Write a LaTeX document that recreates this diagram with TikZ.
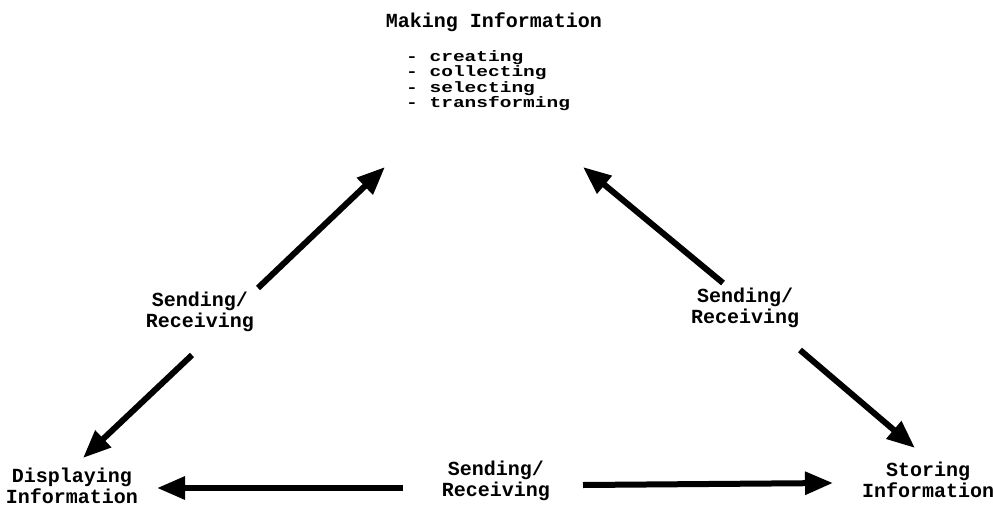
\documentclass[tikz,border=0pt]{standalone}
\usepackage{fontspec}
\setmonofont{Liberation Mono}
\newfontfamily\twlist[FakeStretch=1.3]{Liberation Mono}
\usetikzlibrary{arrows.meta}
\newcommand\mytight{\lineskiplimit=-20pt\relax}
\tikzset{
  lbl/.style={font=\ttfamily\bfseries\fontsize{20}{21}\selectfont\mytight, align=center, inner sep=0pt},
  lst/.style={font=\twlist\bfseries\fontsize{15}{15.5}\selectfont\mytight, align=left, inner sep=0pt, anchor=north west},
  arr/.style={line width=6pt, -{Triangle[length=28pt,width=22pt]}}
}
\begin{document}
\begin{tikzpicture}[x=1pt,y=-1pt]
\useasboundingbox (0,0) rectangle (993,506);
% texts
\node[lbl] (making) at (494,22) {Making Information};
\node[lst] (list) at (406,50) {- creating\\- collecting\\- selecting\\- transforming};
\node[lbl] (sendL) at (200,312) {Sending/\\Receiving};
\node[lbl] (sendR) at (745,308) {Sending/\\Receiving};
\node[lbl] (sendB) at (496,481) {Sending/\\Receiving};
\node[lbl] (disp) at (72,486) {Displaying\\Information};
\node[lbl] (stor) at (928,480) {Storing\\Information};
% arrow end points
\coordinate (a1s) at (258,288); \coordinate (a1e) at (385,167);
\coordinate (a2s) at (192,355); \coordinate (a2e) at (83,458);
\coordinate (a3s) at (723,283); \coordinate (a3e) at (583,167);
\coordinate (a4s) at (800,350); \coordinate (a4e) at (915,448);
\coordinate (a5s) at (403,488); \coordinate (a5e) at (157,488);
\coordinate (a6s) at (583,485); \coordinate (a6e) at (833,483);
\draw[arr] (a1s) -- (a1e);
\draw[arr] (a2s) -- (a2e);
\draw[arr] (a3s) -- (a3e);
\draw[arr] (a4s) -- (a4e);
\draw[arr] (a5s) -- (a5e);
\draw[arr] (a6s) -- (a6e);
\end{tikzpicture}
\end{document}
